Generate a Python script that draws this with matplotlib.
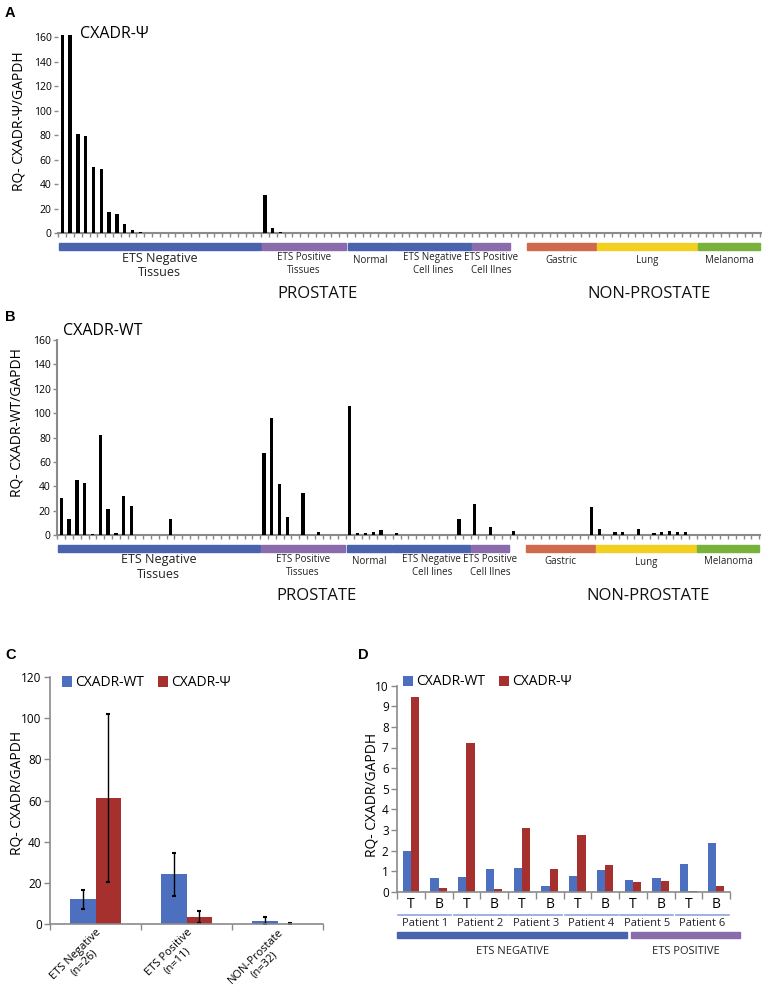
import numpy as np
import matplotlib.pyplot as plt
from matplotlib.patches import Rectangle
from matplotlib.transforms import blended_transform_factory

plt.rcParams['font.family'] = ['Open Sans', 'DejaVu Sans']

W, H = 766, 993

# ---------------- data: panels A and B (one bar per sample) ----------------
group_names = ['ETS Negative\nTissues', 'ETS Positive\nTissues', 'Normal',
               'ETS Negative\nCell lines', 'ETS Positive\nCell lInes', '',
               'Gastric', 'Lung', 'Melanoma']
group_sizes = [26, 11, 6, 10, 5, 2, 9, 13, 8]
group_colors = ['#4a63ad', '#8a6bab', '#4a63ad', '#4a63ad', '#8a6bab', None,
                '#d0694d', '#f1d01f', '#78b23b']

psi_values = [
    # ETS negative tissues
    162, 162, 80.8, 79.2, 53.9, 52.8, 17.1, 16.0, 7.3, 3.0, 1.0, 0, 0,
    0, 0, 0, 0, 0, 0, 0, 0, 0, 0, 0, 0, 0,
    # ETS positive tissues
    31.3, 4.6, 1.3, 0, 0, 0, 0, 0, 0, 0, 0,
    # normal
    0, 0, 0, 0, 0, 0,
    # ETS negative cell lines
    0, 0, 0, 0, 0, 0, 0, 0, 0, 0,
    # ETS positive cell lines
    0, 0, 0, 0, 0,
    # unlabelled
    0, 0,
    # gastric
    0, 0, 0, 0, 0, 0, 0, 0, 0,
    # lung
    0, 0, 0, 0, 0, 0, 0, 0, 0, 0, 0, 0, 0,
    # melanoma
    0, 0, 0, 0, 0, 0, 0, 0,
]

wt_values = [
    # ETS negative tissues
    30.0, 13.4, 44.8, 43.0, 0.5, 81.8, 21.6, 1.5, 32.0, 23.8, 0, 0, 0,
    0, 13.4, 0, 0, 0, 0, 0, 0, 0, 0, 0, 0, 0,
    # ETS positive tissues
    67.0, 95.7, 42.0, 14.5, 0, 34.7, 0, 2.5, 0, 0, 0,
    # normal
    105.8, 1.6, 1.6, 2.5, 4.0, 0,
    # ETS negative cell lines
    1.4, 0, 0, 0, 0, 0, 0, 0, 13.4, 0,
    # ETS positive cell lines
    25.7, 0, 6.8, 0, 0,
    # unlabelled
    3.3, 0,
    # gastric
    0, 0, 0, 0, 0, 0, 0, 0, 22.7,
    # lung
    4.9, 0, 2.2, 2.2, 0, 4.9, 0, 1.4, 2.2, 3.0, 2.2, 2.2, 0,
    # melanoma
    0, 0, 0, 0, 0, 0, 0, 0,
]

# ---------------- data: panel C ----------------
c_cats = ['ETS Negative\n(n=26)', 'ETS Positive\n(n=11)', 'NON-Prostate\n(n=32)']
c_wt = [12.1, 24.1, 1.6]
c_wt_err = [4.6, 10.5, 1.6]
c_psi = [61.0, 3.4, 0.05]
c_psi_err = [40.8, 2.8, 0.4]

# ---------------- data: panel D ----------------
d_ticks = ['T', 'B', 'T', 'B', 'T', 'B', 'T', 'B', 'T', 'B', 'T', 'B']
d_wt = [2.0, 0.65, 0.70, 1.12, 1.17, 0.28, 0.76, 1.07, 0.57, 0.65, 1.33, 2.38]
d_psi = [9.47, 0.19, 7.23, 0.13, 3.11, 1.12, 2.75, 1.28, 0.45, 0.50, 0.05, 0.29]
patients = ['Patient 1', 'Patient 2', 'Patient 3', 'Patient 4', 'Patient 5', 'Patient 6']
d_groups = ['ETS NEGATIVE', 'ETS POSITIVE']
d_group_sizes = [4, 2]
d_group_colors = ['#4a63ad', '#8a6bab']

BLUE = '#4d6fc0'
RED = '#a5302e'
GREY = '#8a8a8a'


def fy(y):
    return 1 - y / H


fig = plt.figure(figsize=(W / 100, H / 100), dpi=100)


def strip_panel(ax, values, axis_px, ymax, left_spine):
    xs = np.arange(len(values))
    ax.bar(xs, values, width=0.42, color='black', zorder=3)
    ax.set_xlim(-0.55, len(values) - 0.4)
    ax.set_ylim(0, ymax)
    for s in ['top', 'right']:
        ax.spines[s].set_visible(False)
    ax.spines['left'].set_visible(left_spine)
    ax.spines['left'].set_color(GREY)
    ax.spines['left'].set_linewidth(1.5)
    ax.spines['bottom'].set_color(GREY)
    ax.spines['bottom'].set_linewidth(1.5)
    ax.set_yticks(range(0, 161, 20))
    ax.tick_params(axis='y', length=3, width=1, color=GREY, labelsize=7.5, pad=1.5)
    ax.set_xticks([])
    ax.set_xticks(np.arange(-0.5, len(values), 1), minor=True)
    ax.tick_params(axis='x', which='minor', length=3, width=1, color=GREY)

    tr = blended_transform_factory(ax.transData, fig.transFigure)
    start = 0
    for name, n, col in zip(group_names, group_sizes, group_colors):
        if col is not None:
            ax.add_artist(Rectangle((start - 0.42, fy(axis_px + 17)), n - 0.16, 7 / H,
                                    transform=tr, color=col, clip_on=False))
            mid = start + (n - 1) / 2
            big = start == 0
            two = '\n' in name
            yc = axis_px + (32 if big else (31 if two else 27))
            ax.text(mid, fy(yc), name, transform=tr, ha='center', va='center',
                    fontsize=9 if big else 7, linespacing=1.15 if big else 1.25,
                    color='#222222')
        start += n
    ax.text(32.7, fy(axis_px + 61), 'PROSTATE', transform=tr, ha='center',
            va='center', fontsize=12, color='#111111')
    ax.text(75.3, fy(axis_px + 61), 'NON-PROSTATE', transform=tr, ha='center',
            va='center', fontsize=12, color='#111111')


# ---------------- panel A ----------------
axA = fig.add_axes([58 / W, fy(233.3), 703 / W, 198.5 / H])
strip_panel(axA, psi_values, 233.3, 162, False)
fig.text(80 / W, fy(34), 'CXADR-Ψ', fontsize=11.5, va='center', ha='left')
fig.text(19 / W, fy(121), 'RQ- CXADR-Ψ/GAPDH', rotation=90, fontsize=10,
         ha='center', va='center')

# ---------------- panel B ----------------
axB = fig.add_axes([57 / W, fy(535), 703 / W, 195 / H])
strip_panel(axB, wt_values, 535, 160, True)
fig.text(63 / W, fy(331), 'CXADR-WT', fontsize=11.5, va='center', ha='left')
fig.text(17.5 / W, fy(423), 'RQ- CXADR-WT/GAPDH', rotation=90, fontsize=10,
         ha='center', va='center')

# ---------------- panel C ----------------
axC = fig.add_axes([50 / W, fy(924), 273 / W, 247 / H])
xc = np.arange(len(c_cats))
ekw = dict(ecolor='black', elinewidth=1, capsize=1.5, capthick=1.5)
axC.bar(xc - 0.14, c_wt, 0.28, color=BLUE, yerr=c_wt_err, error_kw=ekw, label='CXADR-WT')
axC.bar(xc + 0.14, c_psi, 0.28, color=RED, yerr=c_psi_err, error_kw=ekw, label='CXADR-Ψ')
axC.set_xlim(-0.5, 2.5)
axC.set_ylim(0, 120)
axC.set_yticks(range(0, 121, 20))
for s in ['top', 'right']:
    axC.spines[s].set_visible(False)
for s in ['left', 'bottom']:
    axC.spines[s].set_color(GREY)
    axC.spines[s].set_linewidth(1.2)
axC.tick_params(axis='y', length=4, width=1, color=GREY, labelsize=8.5, pad=2)
axC.set_xticks(xc)
axC.set_xticklabels(c_cats, rotation=45, ha='right', va='top', rotation_mode='anchor',
                    fontsize=8, multialignment='center', linespacing=1.1)
axC.tick_params(axis='x', which='major', length=0, pad=2)
axC.set_xticks(np.arange(-0.5, 3, 1), minor=True)
axC.tick_params(axis='x', which='minor', length=4, width=1, color=GREY)
axC.legend(loc='center left', bbox_to_anchor=(0.044, 0.976), ncol=2, frameon=False,
           fontsize=10, handlelength=0.75, handleheight=0.75, handletextpad=0.2,
           columnspacing=1.0, borderpad=0, borderaxespad=0)
fig.text(17.5 / W, fy(793), 'RQ- CXADR/GAPDH', rotation=90, fontsize=10,
         ha='center', va='center')

# ---------------- panel D ----------------
axD = fig.add_axes([397 / W, fy(891.7), 333 / W, 206 / H])
xd = np.arange(len(d_ticks))
axD.bar(xd - 0.15, d_wt, 0.3, color=BLUE, label='CXADR-WT')
axD.bar(xd + 0.15, d_psi, 0.3, color=RED, label='CXADR-Ψ')
axD.set_xlim(-0.5, len(d_ticks) - 0.5)
axD.set_ylim(0, 10)
axD.set_yticks(range(0, 11))
for s in ['top', 'right']:
    axD.spines[s].set_visible(False)
for s in ['left', 'bottom']:
    axD.spines[s].set_color(GREY)
    axD.spines[s].set_linewidth(1.2)
axD.tick_params(axis='y', length=4, width=1, color=GREY, labelsize=8.5, pad=2)
axD.set_xticks(xd)
axD.set_xticklabels(d_ticks, fontsize=10)
axD.tick_params(axis='x', which='major', length=0, pad=4)
axD.set_xticks(np.arange(-0.5, len(d_ticks), 1), minor=True)
axD.tick_params(axis='x', which='minor', length=5, width=1, color=GREY)
axD.legend(loc='center left', bbox_to_anchor=(0.018, 1.018), ncol=2, frameon=False,
           fontsize=10, handlelength=0.75, handleheight=0.75, handletextpad=0.2,
           columnspacing=1.0, borderpad=0, borderaxespad=0)
fig.text(372 / W, fy(795), 'RQ- CXADR/GAPDH', rotation=90, fontsize=10,
         ha='center', va='center')

trD = blended_transform_factory(axD.transData, fig.transFigure)
for p, name in enumerate(patients):
    x0 = 2 * p - 0.45
    axD.add_artist(plt.Line2D([x0, x0 + 1.9], [fy(915), fy(915)], transform=trD,
                              color='#8ea6dc', lw=1.2, clip_on=False))
    axD.text(2 * p + 0.5, fy(924), name, transform=trD, ha='center', va='center',
             fontsize=8, color='#222222')
start = 0
for name, n, col in zip(d_groups, d_group_sizes, d_group_colors):
    a = 2 * start - 0.5 + (0.45 if start else 0)
    b = 2 * (start + n) - 0.5 + (0.3 if start == 0 else 0.35)
    axD.add_artist(Rectangle((a, fy(938)), b - a, 6.5 / H, transform=trD, color=col,
                             clip_on=False))
    axD.text((a + b) / 2, fy(952), name, transform=trD, ha='center', va='center',
             fontsize=8, color='#222222')
    start += n

# panel letters
for letter, x, y in [('A', 10, 13), ('B', 10, 317), ('C', 11, 655), ('D', 363, 655)]:
    fig.text(x / W, fy(y), letter, fontsize=10.5, fontweight='bold',
             family=['Liberation Sans', 'DejaVu Sans'], ha='center', va='center')

fig.savefig('out.png', dpi=100)
